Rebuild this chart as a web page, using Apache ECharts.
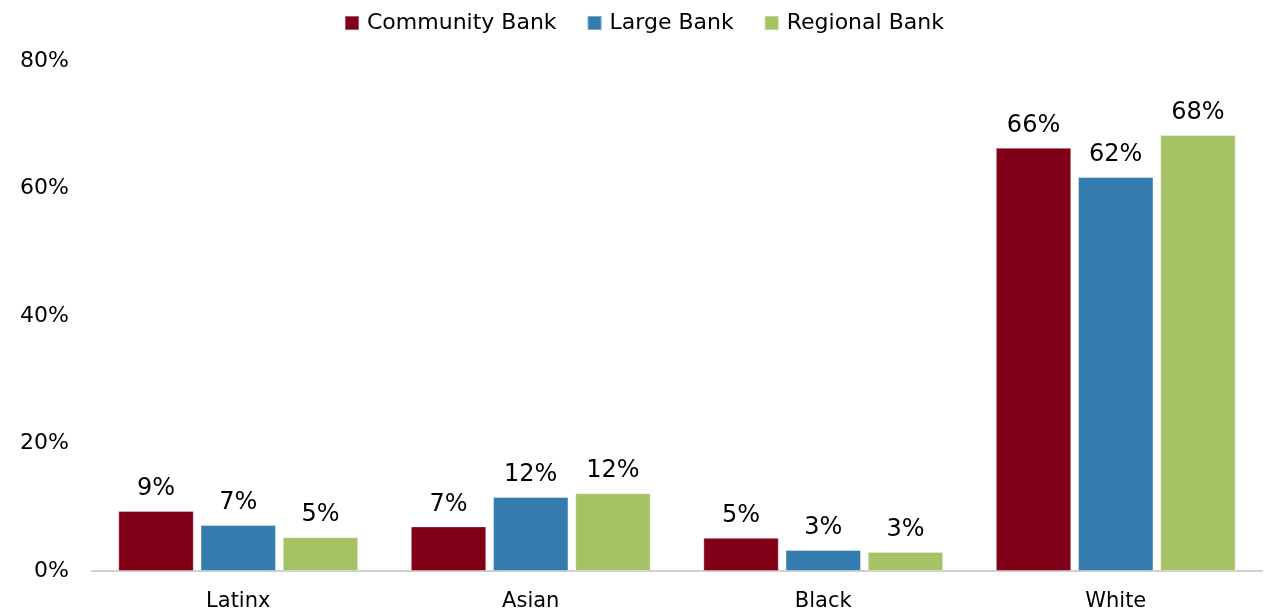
<!DOCTYPE html>
<html>
<head>
<meta charset="utf-8">
<style>
  html, body { margin: 0; padding: 0; background: #ffffff; }
  #chart { width: 1264px; height: 615px; }
</style>
<script src="https://cdn.jsdelivr.net/npm/echarts@6/dist/echarts.min.js"></script>
</head>
<body>
<div id="chart"></div>
<script>
// Share of respondents by race/ethnicity, per bank type
const categories = ['Latinx', 'Asian', 'Black', 'White'];
const communityBank = [9.4, 7.0, 5.2, 66.4];
const largeBank = [7.2, 11.6, 3.3, 61.8];
const regionalBank = [5.3, 12.2, 3.0, 68.4];
const yTicks = [0, 20, 40, 60, 80];

const FONT = '"DejaVu Sans", Lato, sans-serif';

const labelStyle = {
  show: true,
  position: 'top',
  distance: 10,
  color: '#000',
  fontFamily: FONT,
  fontSize: 24,
  formatter: p => Math.round(p.value) + '%'
};

function barSeries(name, data, color) {
  return {
    name,
    type: 'bar',
    data,
    barGap: '9%',
    barCategoryGap: '18%',
    itemStyle: { color, borderColor: 'rgba(255,255,255,0.35)', borderWidth: 1 },
    label: labelStyle
  };
}

const chart = echarts.init(document.getElementById('chart'), null, { renderer: 'canvas' });
chart.setOption({
  animation: false,
  legend: {
    top: 7,
    left: 339,
    itemWidth: 14,
    itemHeight: 14,
    itemGap: 30,
    icon: 'rect',
    textStyle: { fontFamily: FONT, fontSize: 22, color: '#000', padding: [0, 0, 0, 3] }
  },
  grid: { left: 92, right: 2, top: 61, bottom: 44, containLabel: false },
  xAxis: {
    type: 'category',
    data: categories,
    axisLine: { show: true, lineStyle: { color: '#d0d0d0', width: 2 } },
    axisTick: { show: false },
    axisLabel: { color: '#000', fontFamily: FONT, fontSize: 21, margin: 20 }
  },
  yAxis: {
    type: 'value',
    min: yTicks[0],
    max: yTicks[yTicks.length - 1],
    interval: yTicks[1] - yTicks[0],
    splitLine: { show: false },
    axisLine: { show: false },
    axisTick: { show: false },
    axisLabel: {
      color: '#000',
      fontFamily: FONT,
      fontSize: 22,
      margin: 23,
      padding: [5, 0, 0, 0],
      formatter: v => v + '%'
    }
  },
  series: [
    barSeries('Community Bank', communityBank, '#7f0017'),
    barSeries('Large Bank', largeBank, '#347bae'),
    barSeries('Regional Bank', regionalBank, '#a5c264')
  ]
});
</script>
</body>
</html>
